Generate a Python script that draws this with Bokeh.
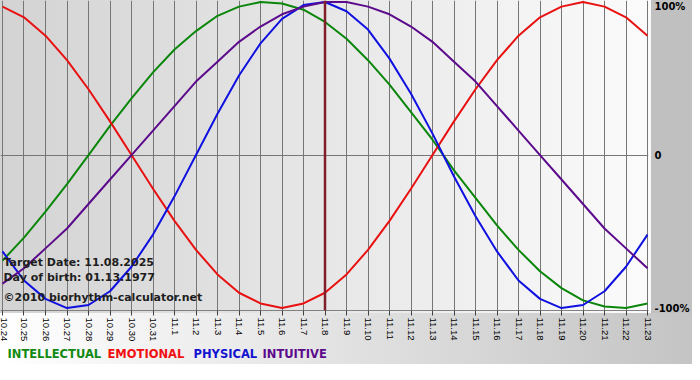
from bokeh.plotting import figure
from bokeh.models import FixedTicker, Span, Label, ColumnDataSource
from bokeh.layouts import column
from bokeh.embed import file_html
from bokeh.resources import INLINE

days = ["10.24", "10.25", "10.26", "10.27", "10.28", "10.29", "10.30", "10.31",
        "11.1", "11.2", "11.3", "11.4", "11.5", "11.6", "11.7", "11.8", "11.9",
        "11.10", "11.11", "11.12", "11.13", "11.14", "11.15", "11.16", "11.17",
        "11.18", "11.19", "11.20", "11.21", "11.22", "11.23"]

intellectual = [-0.69, -0.54, -0.37, -0.19, 0.00, 0.19, 0.37, 0.54, 0.69, 0.81, 0.91,
                0.97, 1.00, 0.99, 0.95, 0.87, 0.76, 0.62, 0.46, 0.28, 0.10, -0.10,
                -0.28, -0.46, -0.62, -0.76, -0.87, -0.95, -0.99, -1.00, -0.97]
emotional = [0.97, 0.90, 0.78, 0.62, 0.43, 0.22, 0.00, -0.22, -0.43, -0.62, -0.78,
             -0.90, -0.97, -1.00, -0.97, -0.90, -0.78, -0.62, -0.43, -0.22, 0.00, 0.22,
             0.43, 0.62, 0.78, 0.90, 0.97, 1.00, 0.97, 0.90, 0.78]
physical = [-0.63, -0.82, -0.94, -1.00, -0.98, -0.89, -0.73, -0.52, -0.27, 0.00, 0.27,
            0.52, 0.73, 0.89, 0.98, 1.00, 0.94, 0.82, 0.63, 0.40, 0.14, -0.14, -0.40,
            -0.63, -0.82, -0.94, -1.00, -0.98, -0.89, -0.73, -0.52]
intuitive = [-0.84, -0.74, -0.61, -0.48, -0.32, -0.16, 0.00, 0.16, 0.32, 0.48, 0.61,
             0.74, 0.84, 0.92, 0.97, 1.00, 1.00, 0.97, 0.92, 0.84, 0.74, 0.61, 0.48,
             0.32, 0.16, 0.00, -0.16, -0.32, -0.48, -0.61, -0.74]

target_day = "11.8"
target_text = "Target Date: 11.08.2025"
birth_text = "Day of birth: 01.13.1977"
copy_text = "\u00a92010 biorhythm-calculator.net"
y_ticks = [-1, 0, 1]
y_labels = ["-100%", "0", "100%"]
series_names = ["INTELLECTUAL", "EMOTIONAL", "PHYSICAL", "INTUITIVE"]
series_colors = ["#0a860a", "#e81010", "#1010e0", "#5c0a8c"]
legend_colors = ["#128a12", "#f01010", "#1212d0", "#5c0a8c"]

W = 692
FW, FH = 651, 313
H1 = 344
H2 = 20

bg1 = ("linear-gradient(to right, #d3d3d3, #fbfbfb) 0px 0px / %dpx %dpx no-repeat, "
       "linear-gradient(#c0c0c0, #c0c0c0) %dpx 0px / %dpx %dpx no-repeat, "
       "linear-gradient(to right, #ffffff, #c4c4c4) 0px %dpx / %dpx %dpx no-repeat"
       % (FW, FH, FW, W - FW, FH, FH, W, H1 - FH))
bg2 = "linear-gradient(to right, #ffffff, #c4c4c4)"

p = figure(width=W, height=H1, output_backend="svg", toolbar_location=None,
           x_range=(-0.093, 30.046), y_range=(-1.016, 1.01),
           y_axis_location="right", min_border_left=0, min_border_top=0,
           min_border_right=W - FW, min_border_bottom=H1 - FH,
           styles={"background": bg1})
p.border_fill_alpha = 0
p.background_fill_alpha = 0
p.outline_line_color = None

xs = list(range(len(days)))
src = ColumnDataSource(dict(x=xs, intellectual=intellectual, emotional=emotional,
                            physical=physical, intuitive=intuitive))

# axes
p.xaxis.ticker = FixedTicker(ticks=xs)
p.xaxis.major_label_overrides = {i: d for i, d in enumerate(days)}
p.xaxis.major_label_orientation = -1.5708
p.xaxis.major_label_text_font = "Liberation Sans"
p.xaxis.major_label_text_font_size = "9.5px"
p.xaxis.major_label_text_color = "#000000"
p.xaxis.major_tick_out = 5
p.xaxis.major_tick_in = 0
p.xaxis.minor_tick_out = 0
p.xaxis.minor_tick_in = 0
p.xaxis.major_label_standoff = 2
p.xaxis.axis_line_color = "#808080"
p.xaxis.major_tick_line_color = "#404040"

p.yaxis.ticker = FixedTicker(ticks=y_ticks)
p.yaxis.major_label_overrides = {t: l for t, l in zip(y_ticks, y_labels)}
p.yaxis.major_label_text_font = "DejaVu Sans"
p.yaxis.major_label_text_font_style = "bold"
p.yaxis.major_label_text_font_size = "10px"
p.yaxis.major_label_text_color = "#000000"
p.yaxis.axis_line_color = None
p.yaxis.major_tick_line_color = None
p.yaxis.minor_tick_line_color = None
p.yaxis.major_tick_out = 0
p.yaxis.major_tick_in = 0
p.yaxis.minor_tick_out = 0
p.yaxis.minor_tick_in = 0
p.yaxis.major_label_standoff = 6

p.xgrid.ticker = FixedTicker(ticks=xs)
p.xgrid.grid_line_color = "#767676"
p.xgrid.grid_line_width = 1
p.ygrid.ticker = FixedTicker(ticks=[0])
p.ygrid.grid_line_color = "#767676"
p.ygrid.grid_line_width = 1

# curves
for name, col in zip(["intellectual", "emotional", "physical", "intuitive"], series_colors):
    p.line("x", name, source=src, line_color=col, line_width=2)

p.add_layout(Span(location=days.index(target_day), dimension="height",
                  line_color="#7e1f2b", line_width=2.5))

for txt, yv in [(target_text, -0.70), (birth_text, -0.80), (copy_text, -0.934)]:
    p.add_layout(Label(x=0.046, y=yv, text=txt, text_font="DejaVu Sans",
                       text_font_style="bold", text_font_size="11px",
                       text_color="#1e1e1e", text_baseline="middle"))

# legend strip
leg = figure(width=W, height=H2, output_backend="svg", toolbar_location=None,
             x_range=(0, W), y_range=(0, H2), x_axis_type=None, y_axis_type=None,
             min_border_left=0, min_border_right=0, min_border_top=0,
             min_border_bottom=0, styles={"background": bg2})
leg.border_fill_alpha = 0
leg.background_fill_alpha = 0
leg.outline_line_color = None
leg.grid.visible = False
legend_x = [7, 107, 193, 262]
for name, col, lx in zip(series_names, legend_colors, legend_x):
    leg.add_layout(Label(x=lx, y=11, x_units="screen", y_units="screen", text=name,
                         text_font="DejaVu Sans", text_font_style="bold",
                         text_font_size="11.5px", text_color=col,
                         text_baseline="middle"))

layout = column(p, leg, spacing=0)
open("out.html", "w").write(file_html(layout, INLINE))
